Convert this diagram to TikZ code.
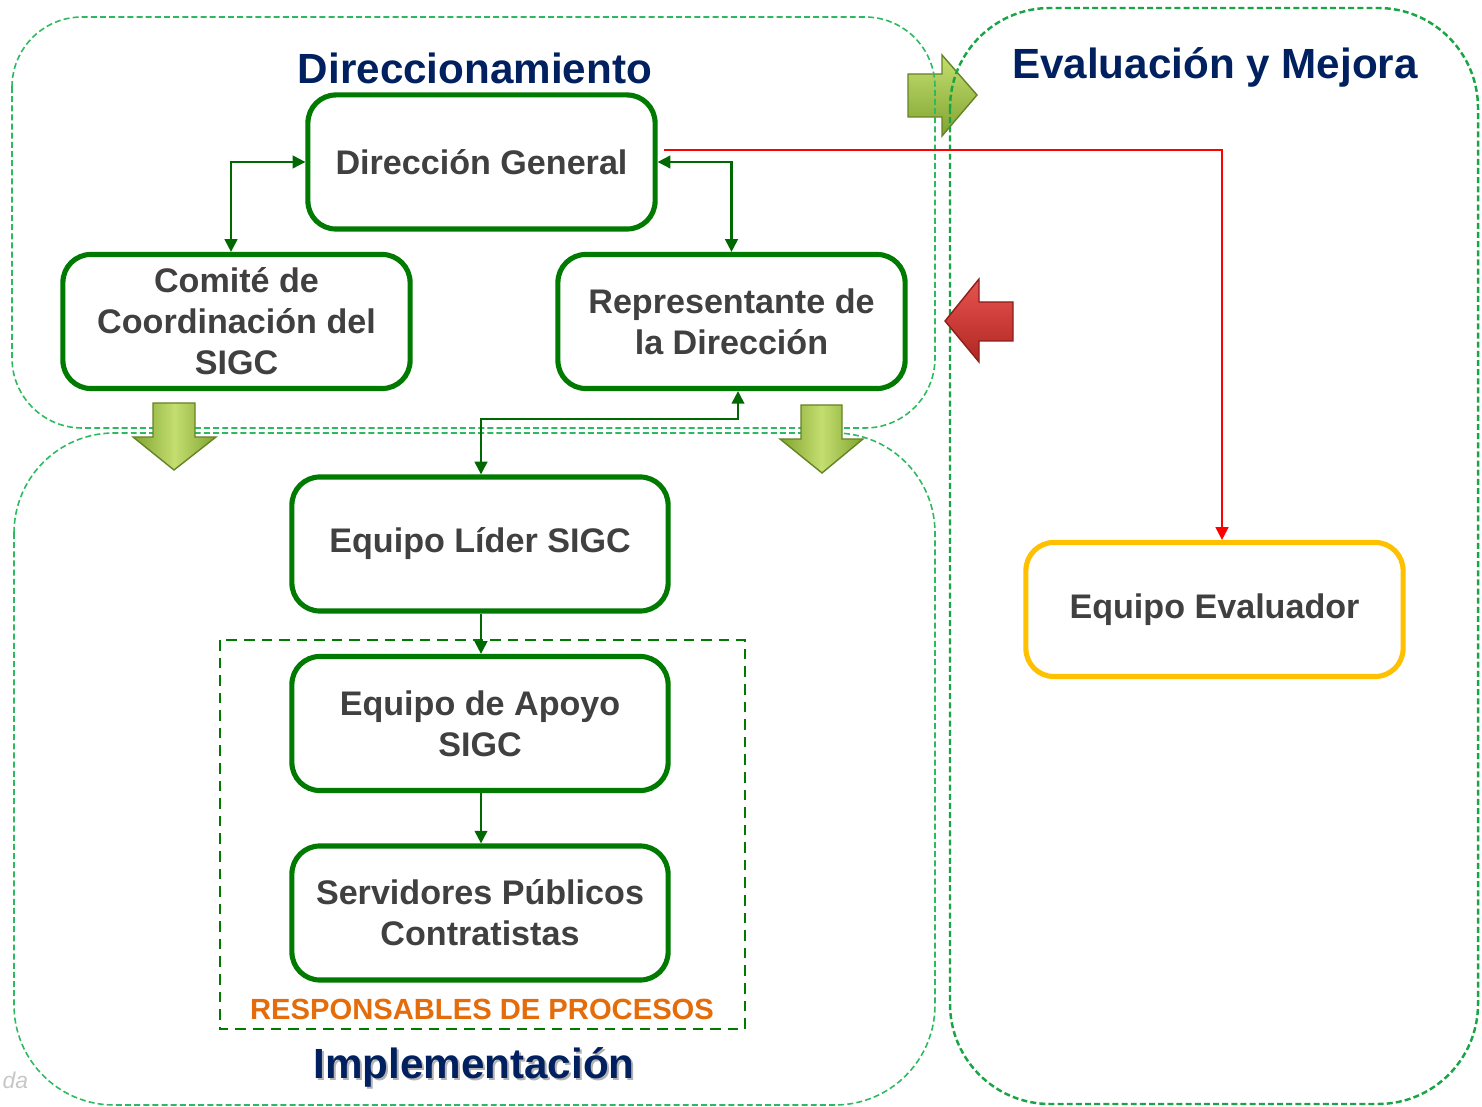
\documentclass[tikz,border=0pt]{standalone}
\usepackage{fontspec}
\setmainfont{Liberation Sans}
\usetikzlibrary{arrows.meta}

\definecolor{boxgreen}{RGB}{0,122,0}
\definecolor{linkgreen}{RGB}{0,104,0}
\definecolor{zonegreen}{RGB}{45,185,95}
\definecolor{evalgreen}{RGB}{25,165,70}
\definecolor{titleblue}{RGB}{0,32,96}
\definecolor{textgray}{RGB}{64,64,64}
\definecolor{evalyellow}{RGB}{255,192,0}
\definecolor{procorange}{RGB}{228,108,10}
\definecolor{arrowlight}{RGB}{196,222,112}
\definecolor{arrowdark}{RGB}{128,164,48}
\definecolor{redlight}{RGB}{232,84,80}
\definecolor{reddark}{RGB}{176,38,34}

\tikzset{
  role/.style={draw=boxgreen, line width=1.45pt, rounded corners=0.28cm, fill=white,
    minimum width=3.47cm, minimum height=1.34cm, inner sep=0pt, align=center,
    text=textgray, font=\fontsize{9.7}{11.7}\selectfont\bfseries},
  twoway/.style={draw=linkgreen, line width=0.6pt,
    {Triangle[length=3.6pt,width=3.6pt]}-{Triangle[length=3.6pt,width=3.6pt]}},
  oneway/.style={draw=linkgreen, line width=0.6pt, -{Triangle[length=3.6pt,width=3.6pt]}},
  zone/.style={draw=zonegreen, dash pattern=on 1.7pt off 0.9pt, line width=0.45pt},
  title/.style={text=titleblue, font=\fontsize{12}{14}\selectfont\bfseries, anchor=base},
}

\begin{document}
\begin{tikzpicture}[x=0.01cm, y=-0.01cm]
    \useasboundingbox (0,0) rectangle (1482,1107);

    % block arrow between Direccionamiento and Evaluacion
    \shade[top color=arrowlight, bottom color=arrowdark, draw=arrowdark!80!black, line width=0.4pt]
        (908,74) -- (942,74) -- (942,55) -- (977,95) -- (942,136) -- (942,117) -- (908,117) -- cycle;

    % zones
    \draw[zone, rounded corners=0.7cm] (12,17) rectangle (935,428); %Direccionamiento
    \draw[zone, rounded corners=1cm] (14,433) rectangle (935,1105); %Implementacion
    \draw[zone, draw=evalgreen, line width=0.7pt, rounded corners=1cm] (950,8) rectangle (1478,1104); %Evaluacion

    % block arrows
    \shade[left color=arrowdark, right color=arrowdark, middle color=arrowlight, draw=arrowdark!80!black, line width=0.4pt]
        (153,403) -- (195,403) -- (195,437) -- (216,437) -- (174,470) -- (133,437) -- (153,437) -- cycle;
    \shade[left color=arrowdark, right color=arrowdark, middle color=arrowlight, draw=arrowdark!80!black, line width=0.4pt]
        (801,405) -- (842,405) -- (842,439) -- (863,439) -- (822,473) -- (780,439) -- (801,439) -- cycle;
    \shade[top color=redlight, bottom color=reddark, draw=reddark!80!black, line width=0.4pt]
        (945,321) -- (979,279) -- (979,302) -- (1013,302) -- (1013,341) -- (979,341) -- (979,362) -- cycle;

    % titles
    \node[title] (direccionamiento) at (475,84) {Direccionamiento};
    \node[title] (evaluacion) at (1215,79) {Evaluación y Mejora};
    \node[title, text=black!30] at (476,1080) {Implementación};
    \node[title] (implementacion) at (474,1078) {Implementación};

    % roles
    \node[role] (dg) at (481.5,162) {Dirección General};
    \node[role] (comite) at (236.5,321.5) {Comité de\\Coordinación del\\SIGC};
    \node[role] (rep) at (731.5,321.5) {Representante de\\la Dirección};
    \node[role, minimum width=3.76cm] (lider) at (480,544) {Equipo Líder SIGC};
    \node[role, minimum width=3.76cm] (apoyo) at (480,723.5) {Equipo de Apoyo\\SIGC};
    \node[role, minimum width=3.76cm] (servidores) at (480,913) {Servidores Públicos\\Contratistas};
    \node[role, draw=evalyellow, minimum width=3.77cm] (evaluador) at (1214.5,609.5) {Equipo Evaluador};

    % responsables de procesos
    \draw[boxgreen, dash pattern=on 3pt off 2pt, line width=0.65pt] (220,640) rectangle (745,1029);
    \node[anchor=base, text=procorange, font=\fontsize{8.3}{10}\selectfont\bfseries] (procesos) at (482,1019) {RESPONSABLES DE PROCESOS};

    % connectors
    \draw[twoway] ([xshift=-0.055cm]comite.north) |- (dg.west);
    \draw[twoway] (dg.east) -| (rep.north);
    \draw[twoway] ([xshift=0.065cm]rep.south) -- ++(0,28) -| ([xshift=0.01cm]lider.north);
    \draw[oneway] ([xshift=0.01cm]lider.south) -- ([xshift=0.01cm]apoyo.north);
    \draw[oneway] ([xshift=0.01cm]apoyo.south) -- ([xshift=0.01cm]servidores.north);
    \draw[red, line width=0.6pt, -{Triangle[length=3.6pt,width=3.6pt]}]
        ([xshift=0.06cm, yshift=0.12cm]dg.east) -| ([xshift=0.075cm]evaluador.north); %evaluacion

    \node[anchor=base west, inner sep=0pt, text=black!22, font=\fontsize{6.5}{8}\selectfont\itshape] (marca) at (2,1088) {da};
\end{tikzpicture}
\end{document}
